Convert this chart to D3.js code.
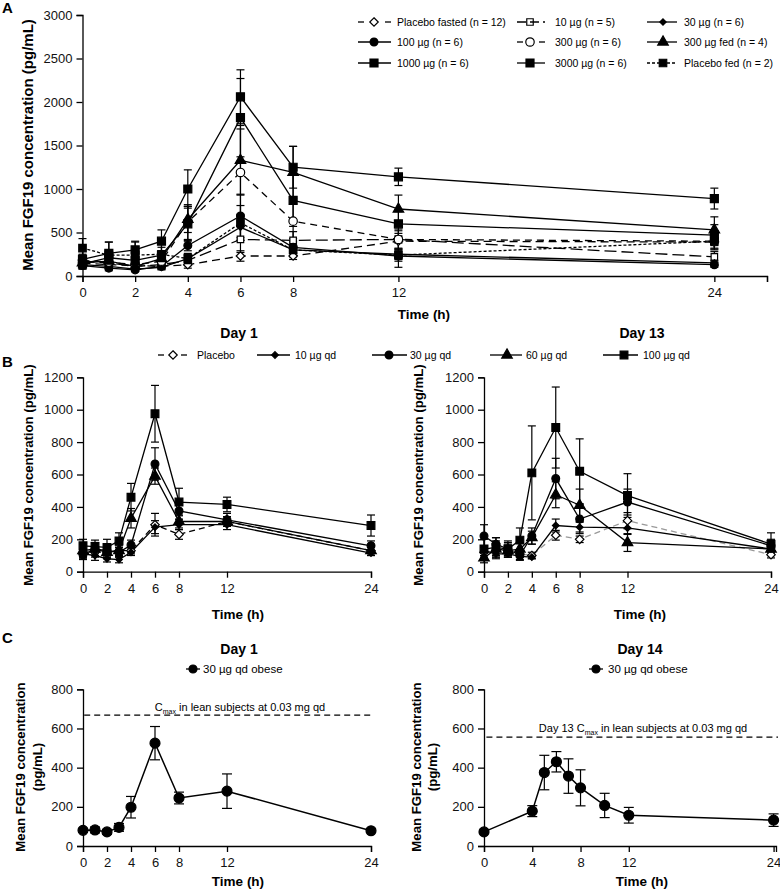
<!DOCTYPE html>
<html><head><meta charset="utf-8">
<script src="https://cdn.jsdelivr.net/npm/d3@7"></script>
<style>
body{margin:0;background:#fff}
svg text{font-family:Arial,"Liberation Sans",sans-serif;fill:#000}
svg .tick text{font-size:13px;fill:#111}
</style>
</head><body>
<svg id="c" width="780" height="890"></svg>
<script>
// ---------------- DATA ----------------
// Panel A (single ascending dose, times in h)
const timesA = [0, 1, 2, 3, 4, 6, 8, 12, 24];
const xTicksA = [0, 2, 4, 6, 8, 12, 24, 26];
const xLabelsA = [0, 2, 4, 6, 8, 12, 24];
const yTicksA = [0, 500, 1000, 1500, 2000, 2500, 3000];
const labelsA = ["Placebo fasted (n = 12)", "10 µg (n = 5)", "30 µg (n = 6)",
                 "100 µg (n = 6)", "300 µg (n = 6)", "300 µg fed (n = 4)",
                 "1000 µg (n = 6)", "3000 µg (n = 6)", "Placebo fed (n = 2)"];
const placeboFastedA = [150, 130, 120, 110, 130, 230, 230, 400, 390];
const placeboFastedErrA = [40, 30, 30, 30, 40, 60, 40, 90, 80];
const dose10A = [170, 150, 110, 130, 180, 420, 410, 420, 220];
const dose10ErrA = [40, 40, 30, 40, 60, 150, 100, 100, 60];
const dose30A = [130, 110, 80, 100, 200, 560, 300, 250, 150];
const dose30ErrA = [30, 30, 20, 30, 50, 150, 60, 60, 30];
const dose100A = [120, 90, 70, 110, 350, 690, 330, 230, 130];
const dose100ErrA = [40, 30, 20, 30, 60, 250, 70, 60, 30];
const dose300A = [180, 160, 130, 170, 620, 1190, 630, 420, 400];
const dose300ErrA = [60, 50, 40, 60, 200, 500, 200, 120, 100];
const dose300fedA = [150, 170, 110, 200, 650, 1330, 1190, 770, 530];
const dose300fedErrA = [60, 60, 40, 80, 150, 400, 300, 160, 150];
const dose1000A = [140, 210, 180, 240, 600, 1820, 870, 600, 470];
const dose1000ErrA = [60, 80, 70, 90, 200, 450, 300, 140, 120];
const dose3000A = [190, 260, 300, 400, 1000, 2060, 1250, 1140, 890];
const dose3000ErrA = [60, 130, 90, 130, 220, 310, 240, 100, 120];
const placeboFedA = [320, 240, 240, 250, 200, 610, 300, 240, 400];
const placeboFedErrA = [110, 150, 160, 140, 60, 200, 80, 140, 80];

// Panel B (multiple dose, Day 1 and Day 13)
const timesB = [0, 1, 2, 3, 4, 6, 8, 12, 24];
const xTicksB = [0, 2, 4, 6, 8, 12, 24];
const yTicksB = [0, 200, 400, 600, 800, 1000, 1200];
const labelsB = ["Placebo", "10 µg qd", "30 µg qd", "60 µg qd", "100 µg qd"];
const placeboB1 = [110, 120, 120, 130, 130, 290, 230, 310, 130];
const placeboErrB1 = [30, 30, 30, 30, 20, 70, 30, 30, 20];
const qd10B1 = [110, 100, 80, 75, 120, 275, 290, 290, 115];
const qd10ErrB1 = [20, 30, 20, 20, 20, 40, 30, 30, 15];
const qd30B1 = [105, 140, 130, 120, 165, 665, 375, 320, 160];
const qd30ErrB1 = [30, 40, 40, 30, 30, 100, 50, 40, 30];
const qd60B1 = [130, 140, 120, 130, 330, 590, 310, 310, 130];
const qd60ErrB1 = [40, 40, 40, 40, 60, 50, 40, 30, 30];
const qd100B1 = [160, 155, 150, 190, 460, 975, 430, 415, 285];
const qd100ErrB1 = [40, 40, 50, 50, 85, 175, 85, 45, 65];
const placeboB13 = [120, 130, 130, 110, 100, 225, 200, 315, 105];
const placeboErrB13 = [30, 30, 30, 20, 20, 30, 20, 50, 20];
const qd10B13 = [130, 110, 110, 95, 90, 285, 275, 270, 140];
const qd10ErrB13 = [30, 30, 20, 20, 10, 40, 30, 40, 30];
const qd30B13 = [220, 170, 140, 100, 220, 575, 325, 430, 160];
const qd30ErrB13 = [70, 40, 40, 30, 50, 125, 90, 80, 40];
const qd60B13 = [85, 140, 130, 140, 210, 475, 410, 180, 140];
const qd60ErrB13 = [30, 50, 40, 40, 40, 80, 100, 55, 40];
const qd100B13 = [140, 150, 140, 195, 610, 890, 620, 470, 170];
const qd100ErrB13 = [60, 60, 50, 75, 290, 250, 200, 135, 70];

// Panel C (obese subjects)
const timesC1 = [0, 1, 2, 3, 4, 6, 8, 12, 24];
const obeseC1 = [80, 82, 72, 95, 198, 525, 245, 280, 78];
const obeseErrC1 = [10, 15, 12, 20, 55, 85, 30, 88, 8];
const timesC14 = [0, 4, 5, 6, 7, 8, 10, 12, 24];
const obeseC14 = [72, 178, 375, 430, 357, 297, 207, 157, 132];
const obeseErrC14 = [6, 28, 88, 52, 88, 92, 62, 40, 32];
const xTicksC1 = [0, 2, 4, 6, 8, 12, 24];
const xTicksC14 = [0, 4, 8, 12, 24];
const yTicksC = [0, 200, 400, 600, 800];
const cmaxLeanDay1 = 668;
const cmaxLeanDay13 = 556;
const labelC = "30 µg qd obese";

// ---------------- DRAWING ----------------
const svg = d3.select("#c");
const FONT = 'Arial,"Liberation Sans",sans-serif';

const diamondType = {
  draw(ctx, size) {
    const r = Math.sqrt(size / 2);
    ctx.moveTo(0, -r); ctx.lineTo(r, 0); ctx.lineTo(0, r); ctx.lineTo(-r, 0); ctx.closePath();
  }
};
const symTypes = { square: d3.symbolSquare, circle: d3.symbolCircle, triangle: d3.symbolTriangle, diamond: diamondType };
function symPath(st, size) { return d3.symbol().type(symTypes[st.shape]).size(size || st.size)(); }

function panel(cfg) {
  const g = svg.append("g");
  const x = d3.scaleLinear().domain(cfg.xDomain).range(cfg.xRange);
  const y = d3.scaleLinear().domain(cfg.yDomain).range(cfg.yRange);
  const xa = g.append("g").attr("transform", `translate(0,${cfg.yRange[0]})`)
    .call(d3.axisBottom(x).tickValues(cfg.xTicks)
      .tickFormat(d => (cfg.xLabels || cfg.xTicks).includes(d) ? String(d) : "")
      .tickSizeOuter(0).tickSize(6).tickPadding(6));
  const ya = g.append("g").attr("transform", `translate(${cfg.xRange[0]},0)`)
    .call(d3.axisLeft(y).tickValues(cfg.yTicks).tickFormat(d => String(d))
      .tickSizeOuter(0).tickSize(6).tickPadding(4));
  [xa, ya].forEach(a => {
    a.attr("font-size", 13).attr("font-family", FONT);
    a.select(".domain").attr("stroke", "#000").attr("stroke-width", 1.3);
    a.selectAll(".tick line").attr("stroke", "#000").attr("stroke-width", 1.3);
    a.selectAll(".tick text").style("font-size", "13px").attr("fill", "#111");
  });
  return { g, x, y };
}

function drawSeries(p, times, vals, errs, st) {
  const pts = times.map((t, i) => [t, vals[i], errs[i]]);
  const sg = p.g.append("g");
  sg.append("path").datum(pts)
    .attr("d", d3.line().x(d => p.x(d[0])).y(d => p.y(d[1])))
    .attr("fill", "none").attr("stroke", st.lineColor || "#000").attr("stroke-width", st.lw || 1.3)
    .attr("stroke-dasharray", st.dash || null);
  const cap = st.cap || 4;
  const eb = sg.append("g").attr("stroke", "#000").attr("stroke-width", 1.2);
  pts.forEach(d => {
    const cx = p.x(d[0]), y0 = p.y(d[1] - d[2]), y1 = p.y(d[1] + d[2]);
    eb.append("line").attr("x1", cx).attr("x2", cx).attr("y1", y0).attr("y2", y1);
    eb.append("line").attr("x1", cx - cap).attr("x2", cx + cap).attr("y1", y0).attr("y2", y0);
    eb.append("line").attr("x1", cx - cap).attr("x2", cx + cap).attr("y1", y1).attr("y2", y1);
  });
  return pts;
}
function drawMarkers(p, pts, st) {
  p.g.append("g").selectAll("path").data(pts).join("path")
    .attr("d", symPath(st))
    .attr("transform", d => `translate(${p.x(d[0])},${p.y(d[1])})`)
    .attr("fill", st.open ? "#fff" : "#000").attr("stroke", "#000").attr("stroke-width", 1.2);
}

function legendItem(x1, x2, mx, y, tx, label, st, fs) {
  const lg = svg.append("g");
  if (st.split) {
    lg.append("line").attr("x1", x1).attr("x2", x1 + 6).attr("y1", y).attr("y2", y).attr("stroke", "#000").attr("stroke-width", 1.3);
    lg.append("line").attr("x1", x2 - 6).attr("x2", x2).attr("y1", y).attr("y2", y).attr("stroke", "#000").attr("stroke-width", 1.3);
  } else {
    lg.append("line").attr("x1", x1).attr("x2", x2).attr("y1", y).attr("y2", y)
      .attr("stroke", "#000").attr("stroke-width", 1.3).attr("stroke-dasharray", st.legDash || null);
  }
  lg.append("path").attr("d", symPath(st, st.legSize)).attr("transform", `translate(${mx},${y})`)
    .attr("fill", st.open ? "none" : "#000").attr("stroke", "#000").attr("stroke-width", 1.2);
  lg.append("text").attr("x", tx).attr("y", y).attr("dy", "0.35em").attr("font-size", fs).text(label);
}

function text(x, y, s, fs, opts = {}) {
  const t = svg.append("text").attr("x", x).attr("y", y).attr("font-size", fs)
    .attr("font-weight", opts.bold ? "bold" : null).attr("text-anchor", opts.anchor || "start")
    .attr("dy", opts.dy || null).text(s);
  if (opts.rotate) t.attr("transform", `rotate(-90,${x},${y})`);
  return t;
}

// ---------- Panel A ----------
const stylesA = [
  { shape: "diamond", size: 36, open: true, dash: "8,5", split: true },
  { shape: "square", size: 42, open: true, dash: "12,5", legDash: "9,4" },
  { shape: "diamond", size: 20, open: false },
  { shape: "circle", size: 48, open: false },
  { shape: "circle", size: 56, open: true, dash: "7,5", split: true },
  { shape: "triangle", size: 48, open: false },
  { shape: "square", size: 64, open: false },
  { shape: "square", size: 64, open: false },
  { shape: "square", size: 56, open: false, dash: "3,2", legDash: "3,2" }
];
const valsA = [placeboFastedA, dose10A, dose30A, dose100A, dose300A, dose300fedA, dose1000A, dose3000A, placeboFedA];
const errsA = [placeboFastedErrA, dose10ErrA, dose30ErrA, dose100ErrA, dose300ErrA, dose300fedErrA, dose1000ErrA, dose3000ErrA, placeboFedErrA];
const pA = panel({ xDomain: [0, 26], xRange: [82.5, 767], yDomain: [0, 3000], yRange: [276, 15],
  xTicks: xTicksA, xLabels: xLabelsA, yTicks: yTicksA });
const ptsA = valsA.map((v, i) => drawSeries(pA, timesA, v, errsA[i], stylesA[i]));
ptsA.forEach((pts, i) => drawMarkers(pA, pts, stylesA[i]));

const legColsA = [[358, 391, 374, 397], [517, 545, 530, 555], [647, 677, 663, 684]];
const legRowsA = [22, 42, 63];
labelsA.forEach((lab, i) => {
  const c = legColsA[i % 3], r = legRowsA[Math.floor(i / 3)];
  legendItem(c[0], c[1], c[2], r, c[3], lab, stylesA[i], 10.5);
});
text(2, 13, "A", 15, { bold: true });
text(28, 145, "Mean FGF19 concentration (pg/mL)", 15, { bold: true, anchor: "middle", rotate: true, dy: "0.35em" });
text(424, 314, "Time (h)", 13.5, { bold: true, anchor: "middle", dy: "0.35em" });

// ---------- Panel B ----------
const stylesB = [
  { shape: "diamond", size: 36, open: true, dash: "6,4", split: true },
  { shape: "diamond", size: 22, open: false },
  { shape: "circle", size: 48, open: false },
  { shape: "triangle", size: 48, open: false },
  { shape: "square", size: 60, open: false }
];
const valsB1 = [placeboB1, qd10B1, qd30B1, qd60B1, qd100B1];
const errsB1 = [placeboErrB1, qd10ErrB1, qd30ErrB1, qd60ErrB1, qd100ErrB1];
const valsB13 = [placeboB13, qd10B13, qd30B13, qd60B13, qd100B13];
const errsB13 = [placeboErrB13, qd10ErrB13, qd30ErrB13, qd60ErrB13, qd100ErrB13];

const pB1 = panel({ xDomain: [0, 24], xRange: [83, 371], yDomain: [0, 1200], yRange: [571.7, 377.3],
  xTicks: xTicksB, yTicks: yTicksB });
const ptsB1 = valsB1.map((v, i) => drawSeries(pB1, timesB, v, errsB1[i], stylesB[i]));
ptsB1.forEach((pts, i) => drawMarkers(pB1, pts, stylesB[i]));

const pB13 = panel({ xDomain: [0, 24], xRange: [484, 771], yDomain: [0, 1200], yRange: [571.7, 377.3],
  xTicks: xTicksB, yTicks: yTicksB });
const ptsB13 = valsB13.map((v, i) => drawSeries(pB13, timesB, v, errsB13[i],
  i === 0 ? Object.assign({}, stylesB[0], { lineColor: "#999" }) : stylesB[i]));
ptsB13.forEach((pts, i) => drawMarkers(pB13, pts, stylesB[i]));

const legB = [[158, 187, 173, 197], [257, 290, 275, 295], [372, 407, 389, 410], [490, 522, 507, 526], [603, 638, 624, 643]];
labelsB.forEach((lab, i) => legendItem(legB[i][0], legB[i][1], legB[i][2], 355, legB[i][3], lab, stylesB[i], 10.5));
text(2, 367, "B", 15, { bold: true });
text(239, 333, "Day 1", 14, { bold: true, anchor: "middle", dy: "0.35em" });
text(642, 333, "Day 13", 14, { bold: true, anchor: "middle", dy: "0.35em" });
text(28, 475, "Mean FGF19 concentration (pg/mL)", 13.2, { bold: true, anchor: "middle", rotate: true, dy: "0.35em" });
text(418, 475, "Mean FGF19 concentration (pg/mL)", 13.2, { bold: true, anchor: "middle", rotate: true, dy: "0.35em" });
text(238, 614, "Time (h)", 13.5, { bold: true, anchor: "middle", dy: "0.35em" });
text(640, 614, "Time (h)", 13.5, { bold: true, anchor: "middle", dy: "0.35em" });

// ---------- Panel C ----------
const styleC = { shape: "circle", size: 78, legSize: 50, open: false, lw: 1.5, cap: 5 };
const pC1 = panel({ xDomain: [0, 24], xRange: [83, 371], yDomain: [0, 800], yRange: [846, 689.3],
  xTicks: xTicksC1, yTicks: yTicksC });
const pC14 = panel({ xDomain: [0, 24.2], xRange: [484, 776], yDomain: [0, 800], yRange: [846, 689.3],
  xTicks: xTicksC14, yTicks: yTicksC });

function refLine(p, val, x1, x2) {
  p.g.append("line").attr("x1", x1).attr("x2", x2).attr("y1", p.y(val)).attr("y2", p.y(val))
    .attr("stroke", "#000").attr("stroke-width", 1.4).attr("stroke-dasharray", "6,4");
}
refLine(pC1, cmaxLeanDay1, pC1.x(0.1), pC1.x(24.1));
refLine(pC14, cmaxLeanDay13, pC14.x(0.2), 778);

drawMarkers(pC1, drawSeries(pC1, timesC1, obeseC1, obeseErrC1, styleC), styleC);
drawMarkers(pC14, drawSeries(pC14, timesC14, obeseC14, obeseErrC14, styleC), styleC);

function cmaxLabel(x, y, prefix) {
  const t = svg.append("text").attr("x", x).attr("y", y).attr("font-size", 11).attr("text-anchor", "middle");
  t.append("tspan").text(prefix + "C");
  t.append("tspan").attr("font-size", 7).attr("dy", 3).text("max");
  t.append("tspan").attr("dy", -3).text(" in lean subjects at 0.03 mg qd");
}
cmaxLabel(240, 711, "");
cmaxLabel(643, 732, "Day 13 ");

legendItem(186, 200, 193, 669, 203, labelC, styleC, 11.5);
legendItem(589, 603, 596, 669, 608, labelC, styleC, 11.5);
text(2, 643, "C", 15, { bold: true });
text(239, 649, "Day 1", 14, { bold: true, anchor: "middle", dy: "0.35em" });
text(640, 649, "Day 14", 14, { bold: true, anchor: "middle", dy: "0.35em" });
[[20, 37], [416, 432]].forEach(([a, b]) => {
  text(a, 767, "Mean FGF19 concentration", 13.2, { bold: true, anchor: "middle", rotate: true, dy: "0.35em" });
  text(b, 767, "(pg/mL)", 13.2, { bold: true, anchor: "middle", rotate: true, dy: "0.35em" });
});
text(238, 881, "Time (h)", 13.5, { bold: true, anchor: "middle", dy: "0.35em" });
text(642, 881, "Time (h)", 13.5, { bold: true, anchor: "middle", dy: "0.35em" });
</script>
</body></html>
